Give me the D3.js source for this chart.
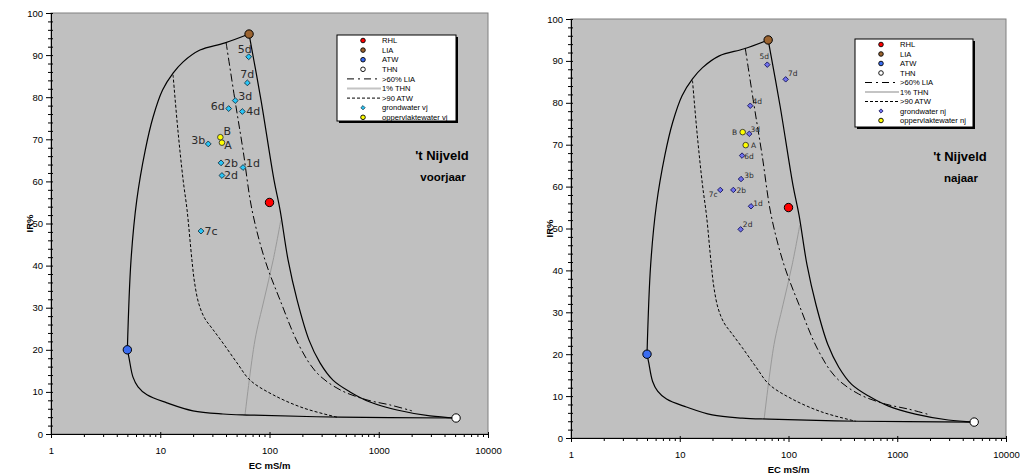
<!DOCTYPE html>
<html>
<head>
<meta charset="utf-8">
<title>IR - EC diagram 't Nijveld</title>
<script src="https://d3js.org/d3.v7.min.js"></script>
<style>
  body { margin: 0; background: #fff; }
  svg text { font-family: "Liberation Sans", Arial, sans-serif; }
</style>
</head>
<body>
<svg id="canvas" width="1023" height="475"></svg>
<script>
// end members
var endNames = ["RHL", "LIA", "ATW", "THN"];
var endEC = [100, 65, 5, 5100];
var endIR = [55, 95, 20, 3.8];

// envelope (solid): LIA -> ATW, ATW -> THN, LIA -> THN
var envTopEC = [65, 39.2, 23.1, 16.2, 13.1, 10.5, 8.6, 7.3, 6.1, 5.4, 5];
var envTopIR = [95, 92.9, 91.2, 88.4, 85.7, 81.7, 75.3, 67.5, 55.6, 41.3, 20];
var envBotEC = [5, 5.18, 5.63, 6.26, 7.56, 11.5, 19.9, 37.5, 66.3, 442, 5100];
var envBotIR = [20, 18.05, 13.5, 11.2, 9.3, 7.4, 5.5, 4.75, 4.5, 4.0, 3.8];
var envRightEC = [65, 83.6, 110, 125, 148, 179, 230, 290, 381, 546, 832, 1469, 2944, 5100];
var envRightIR = [95, 79.3, 60.3, 53.2, 41.3, 31.8, 22.3, 16.9, 12.8, 10.0, 7.6, 5.7, 4.3, 3.8];

// >60% LIA
var lia60EC = [40, 48.3, 57.2, 69.2, 91, 125, 186, 272, 442, 780, 1268, 2014];
var lia60IR = [93.1, 79.3, 67.5, 53.2, 41.3, 31.8, 21.1, 14.5, 10.5, 8.1, 6.9, 5.5];
// 1% THN
var thn1EC = [59.7, 73.6, 89, 108, 127];
var thn1IR = [4.5, 22.3, 31.8, 41.3, 50.8];
// >90 ATW
var atw90EC = [13.1, 14.5, 16.2, 17.6, 19.5, 20.6, 22.5, 25.5, 30, 37.5, 50.4, 66.3, 108, 203, 415];
var atw90IR = [85.3, 72.2, 60.3, 53.2, 41.3, 36, 31, 27.5, 25, 21.6, 16.9, 12.8, 9.3, 6.2, 4.0];

// voorjaar
var gwLabelsVj = ["5d", "7d", "3d", "6d", "4d", "3b", "2b", "1d", "2d", "7c"];
var gwECVj = [64.5, 62.7, 48.6, 42.3, 56.4, 27.5, 36.0, 57.2, 36.7, 23.6];
var gwIRVj = [89.6, 83.4, 79.2, 77.3, 76.6, 68.9, 64.4, 63.3, 61.4, 48.2];
var swLabelsVj = ["B", "A"];
var swECVj = [35.5, 36.7];
var swIRVj = [70.5, 69.2];

// najaar
var gwLabelsNj = ["5d", "7d", "4d", "3d", "6d", "3b", "7c", "2b", "1d", "2d"];
var gwECNj = [63.8, 94.2, 44.5, 43.6, 37.4, 36.6, 23.6, 31.1, 45.2, 36.3];
var gwIRNj = [89.1, 85.6, 79.3, 72.6, 67.4, 61.8, 59.2, 59.2, 55.3, 49.8];
var swLabelsNj = ["B", "A"];
var swECNj = [37.9, 40.4];
var swIRNj = [73.0, 69.9];

var legendVj = ["RHL", "LIA", "ATW", "THN", ">60% LIA", "1% THN", ">90 ATW", "grondwater vj", "oppervlaktewater vj"];
var legendNj = ["RHL", "LIA", "ATW", "THN", ">60% LIA", "1% THN", ">90 ATW", "grondwater nj", "oppervlaktewater nj"];

// label placement (offset of text centre from point, px)
var gwOffVj = [[-4, -8], [0, -9], [10, -4], [-11, -2], [11, 0], [-10, -4], [10, 0], [10, -4], [9, 0], [10, 0]];
var swOffVj = [[7, -6], [6, 2]];
var gwOffNj = [[-3, -8], [7, -6], [7, -4], [6, -4], [7, 1], [8, -4], [-7, 4], [8, 0], [7, -3], [7, -5]];
var swOffNj = [[-8, 0], [8, 0]];

var endColors = ["#ff0000", "#9c6430", "#3a6cf0", "#ffffff"];

var svg = d3.select("#canvas");

var majorY = d3.range(0, 101, 10);
var minorY = d3.range(0, 101, 2).filter(function (v) { return v % 10 !== 0; });
var majorX = [1, 10, 100, 1000, 10000];
var minorX = [];
[1, 10, 100, 1000].forEach(function (d) { for (var k = 2; k < 10; k++) minorX.push(d * k); });

function styleAxis(sel) {
    sel.attr("font-family", null).attr("font-size", null);
    sel.selectAll(".domain").attr("stroke", "#000");
    sel.selectAll(".tick line").attr("stroke", "#000");
    sel.selectAll("text").attr("fill", "#000").style("font-size", "9.5px");
}

function drawPanel(p) {
    var g = svg.append("g");
    var x = d3.scaleLog().domain([1, 10000]).range([p.left, p.right]);
    var y = d3.scaleLinear().domain([0, 100]).range([p.bottom, p.top]);

    g.append("rect")
        .attr("x", p.left).attr("y", p.top)
        .attr("width", p.right - p.left).attr("height", p.bottom - p.top)
        .attr("fill", "#c0c0c0").attr("stroke", "#808080").attr("stroke-width", 1);

    // y axis
    var ya = g.append("g").attr("transform", "translate(" + p.left + ",0)");
    ya.call(d3.axisLeft(y).tickValues(majorY).tickSize(5).tickSizeOuter(0).tickPadding(3));
    styleAxis(ya);
    var ym = g.append("g").attr("transform", "translate(" + p.left + ",0)");
    ym.call(d3.axisLeft(y).tickValues(minorY).tickSize(3).tickFormat(""));
    styleAxis(ym);
    ym.select(".domain").remove();
    var yr = g.append("g").attr("transform", "translate(" + p.left + ",0)");
    yr.call(d3.axisRight(y).tickValues(majorY.concat(minorY)).tickSize(2).tickFormat(""));
    styleAxis(yr);
    yr.select(".domain").remove();

    // x axis
    var xa = g.append("g").attr("transform", "translate(0," + p.bottom + ")");
    xa.call(d3.axisBottom(x).tickValues(majorX).tickSize(4).tickSizeOuter(0).tickPadding(9).tickFormat(d3.format("d")));
    styleAxis(xa);
    var xm = g.append("g").attr("transform", "translate(0," + p.bottom + ")");
    xm.call(d3.axisBottom(x).tickValues(minorX).tickSize(3).tickFormat(""));
    styleAxis(xm);
    xm.select(".domain").remove();
    var xt = g.append("g").attr("transform", "translate(0," + p.bottom + ")");
    xt.call(d3.axisTop(x).tickValues(majorX).tickSize(2).tickFormat(""));
    styleAxis(xt);
    xt.select(".domain").remove();

    // axis titles
    g.append("text")
        .attr("x", (p.left + p.right) / 2).attr("y", p.bottom + 35)
        .attr("text-anchor", "middle").style("font-size", "9.5px").style("font-weight", "bold")
        .text("EC mS/m");
    g.append("text")
        .attr("transform", "translate(" + (p.left - 15) + "," + ((p.top + p.bottom) / 2) + ") rotate(-90)")
        .attr("x", 0).attr("y", -3)
        .attr("text-anchor", "middle").style("font-size", "9.5px").style("font-weight", "bold")
        .text("IR%");

    function path(ec, ir) {
        return d3.line()
            .x(function (i) { return x(ec[i]); })
            .y(function (i) { return y(ir[i]); })
            .curve(d3.curveCatmullRom.alpha(0.5))(d3.range(ec.length));
    }

    g.append("path").attr("d", path(thn1EC, thn1IR))
        .attr("fill", "none").attr("stroke", "#999").attr("stroke-width", 1);
    g.append("path").attr("d", path(atw90EC, atw90IR))
        .attr("fill", "none").attr("stroke", "#000").attr("stroke-width", 1)
        .attr("stroke-dasharray", "3,2");
    g.append("path").attr("d", path(lia60EC, lia60IR))
        .attr("fill", "none").attr("stroke", "#000").attr("stroke-width", 1)
        .attr("stroke-dasharray", "8,3,2,3");
    [[envTopEC, envTopIR], [envBotEC, envBotIR], [envRightEC, envRightIR]].forEach(function (s) {
        g.append("path").attr("d", path(s[0], s[1]))
            .attr("fill", "none").attr("stroke", "#000").attr("stroke-width", 1.2);
    });

    // end members
    g.selectAll(".end").data(endNames).enter().append("circle")
        .attr("cx", function (d, i) { return x(endEC[i]); })
        .attr("cy", function (d, i) { return y(endIR[i]); })
        .attr("r", 4.2)
        .attr("fill", function (d, i) { return endColors[i]; })
        .attr("stroke", "#000").attr("stroke-width", 1);

    // groundwater
    var diamond = d3.symbol().type(d3.symbolSquare).size(p.diaSize);
    g.selectAll(".gw").data(p.gwLab).enter().append("path")
        .attr("d", diamond)
        .attr("transform", function (d, i) {
            return "translate(" + x(p.gwEC[i]) + "," + y(p.gwIR[i]) + ") rotate(45)";
        })
        .attr("fill", p.gwFill).attr("stroke", p.gwStroke).attr("stroke-width", 0.9);
    g.selectAll(".gwl").data(p.gwLab).enter().append("text")
        .attr("x", function (d, i) { return x(p.gwEC[i]) + p.gwOff[i][0]; })
        .attr("y", function (d, i) { return y(p.gwIR[i]) + p.gwOff[i][1]; })
        .attr("dy", "0.35em").attr("text-anchor", "middle")
        .style("font-family", "'DejaVu Sans', sans-serif").style("font-size", p.labSize)
        .attr("fill", "#2a2a2a")
        .text(function (d) { return d; });

    // surface water
    g.selectAll(".sw").data(p.swLab).enter().append("circle")
        .attr("cx", function (d, i) { return x(p.swEC[i]); })
        .attr("cy", function (d, i) { return y(p.swIR[i]); })
        .attr("r", 2.8)
        .attr("fill", "#ffff00").attr("stroke", "#333").attr("stroke-width", 0.9);
    g.selectAll(".swl").data(p.swLab).enter().append("text")
        .attr("x", function (d, i) { return x(p.swEC[i]) + p.swOff[i][0]; })
        .attr("y", function (d, i) { return y(p.swIR[i]) + p.swOff[i][1]; })
        .attr("dy", "0.35em").attr("text-anchor", "middle")
        .style("font-family", "'DejaVu Sans', sans-serif").style("font-size", p.labSize)
        .attr("fill", "#2a2a2a")
        .text(function (d) { return d; });

    // legend
    var L = p.legend;
    var lg = g.append("g");
    lg.append("rect").attr("x", L.x + 2).attr("y", L.y + 2).attr("width", L.w).attr("height", L.h).attr("fill", "#000");
    lg.append("rect").attr("x", L.x).attr("y", L.y).attr("width", L.w).attr("height", L.h)
        .attr("fill", "#fff").attr("stroke", "#000").attr("stroke-width", 1);
    p.legendItems.forEach(function (name, i) {
        var cy = L.y + 5.5 + i * L.step;
        var mx = L.x + 26;
        if (i < 4) {
            lg.append("circle").attr("cx", mx).attr("cy", cy).attr("r", 2.3)
                .attr("fill", endColors[i]).attr("stroke", "#000").attr("stroke-width", 0.9);
        } else if (i < 7) {
            var ln = lg.append("line").attr("x1", L.x + 10).attr("x2", L.x + 44)
                .attr("y1", cy).attr("y2", cy);
            if (i === 4) ln.attr("stroke", "#000").attr("stroke-width", 1).attr("stroke-dasharray", "7,4,2,4");
            if (i === 5) ln.attr("stroke", "#c4c4c4").attr("stroke-width", 2);
            if (i === 6) ln.attr("stroke", "#000").attr("stroke-width", 1).attr("stroke-dasharray", "3,2");
        } else if (i === 7) {
            lg.append("path").attr("d", d3.symbol().type(d3.symbolSquare).size(9))
                .attr("transform", "translate(" + mx + "," + cy + ") rotate(45)")
                .attr("fill", p.gwFill).attr("stroke", p.gwStroke).attr("stroke-width", 0.8);
        } else {
            lg.append("circle").attr("cx", mx).attr("cy", cy).attr("r", 2.3)
                .attr("fill", "#ffff00").attr("stroke", "#000").attr("stroke-width", 0.9);
        }
        lg.append("text").attr("x", L.x + 45).attr("y", cy).attr("dy", "0.35em")
            .style("font-size", "7.6px").attr("fill", "#000").text(name);
    });

    // title
    g.append("text").attr("x", p.titleX).attr("y", p.titleY)
        .attr("text-anchor", "middle").style("font-size", "13px").style("font-weight", "bold")
        .text("'t Nijveld");
    g.append("text").attr("x", p.titleX + 1).attr("y", p.titleY + 21)
        .attr("text-anchor", "middle").style("font-size", "11.5px").style("font-weight", "bold")
        .text(p.season);
}

drawPanel({
    left: 51, right: 488, top: 13, bottom: 434,
    gwLab: gwLabelsVj, gwEC: gwECVj, gwIR: gwIRVj, gwOff: gwOffVj,
    swLab: swLabelsVj, swEC: swECVj, swIR: swIRVj, swOff: swOffVj,
    gwFill: "#29c5f6", gwStroke: "#1b3d4d", diaSize: 17, labSize: "11px",
    legend: { x: 337, y: 35, w: 119, h: 86, step: 9.6 },
    legendItems: legendVj,
    titleX: 442, titleY: 160, season: "voorjaar"
});

drawPanel({
    left: 571, right: 1006, top: 19, bottom: 438,
    gwLab: gwLabelsNj, gwEC: gwECNj, gwIR: gwIRNj, gwOff: gwOffNj,
    swLab: swLabelsNj, swEC: swECNj, swIR: swIRNj, swOff: swOffNj,
    gwFill: "#7070ee", gwStroke: "#1a1a5e", diaSize: 15, labSize: "7.5px",
    legend: { x: 855, y: 39, w: 118, h: 88, step: 9.5 },
    legendItems: legendNj,
    titleX: 960, titleY: 161, season: "najaar"
});
</script>
</body>
</html>
